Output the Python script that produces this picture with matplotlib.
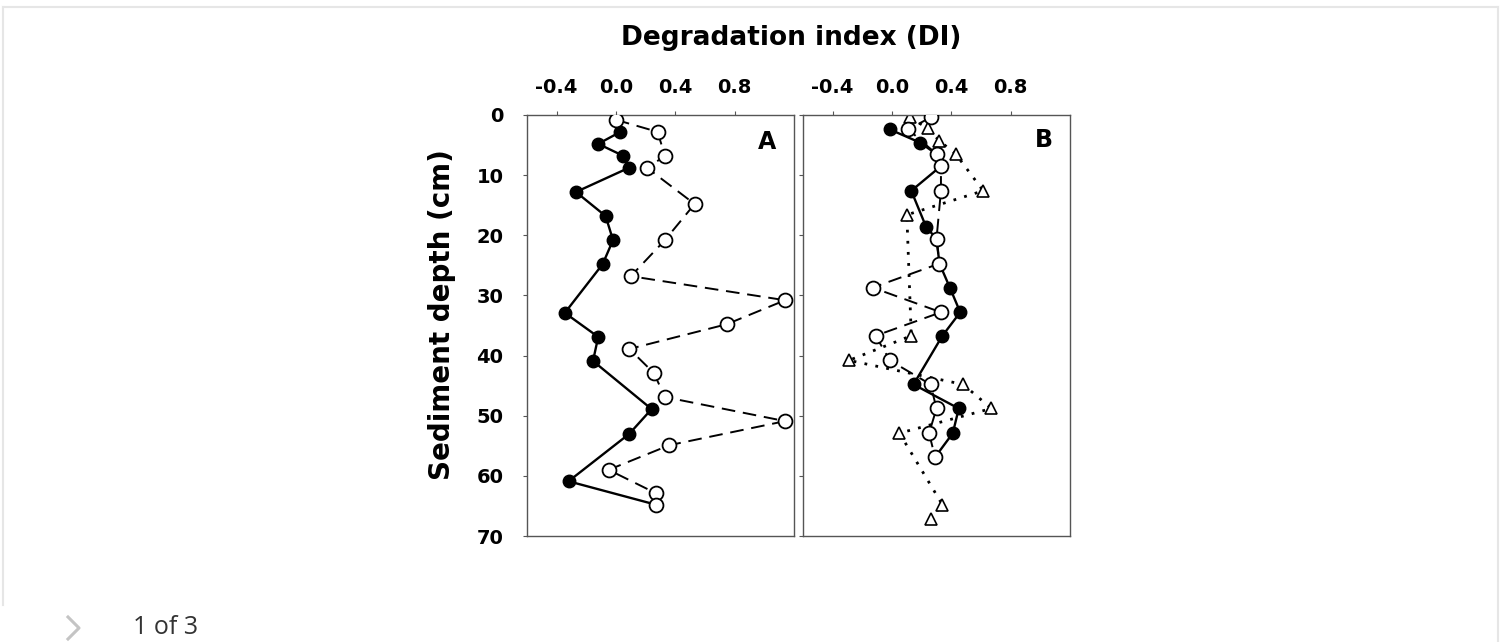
import matplotlib
matplotlib.use("Agg")
import matplotlib.pyplot as plt
from matplotlib.lines import Line2D

plt.rcParams["axes.unicode_minus"] = False
plt.rcParams["font.family"] = "DejaVu Sans"
plt.rcParams["font.weight"] = "bold"

W, H = 1505, 642

# panel A: filled circles (solid line)
a_fill_depth = [2.8, 4.8, 6.8, 8.8, 12.8, 16.8, 20.8, 24.8, 32.9, 36.9, 40.9, 48.9, 53.0, 60.9, 64.8]
a_fill_di = [0.03, -0.12, 0.05, 0.085, -0.27, -0.07, -0.02, -0.09, -0.345, -0.12, -0.155, 0.24, 0.09, -0.32, 0.27]
# panel A: open circles (dashed line)
a_open_depth = [0.8, 2.8, 6.8, 8.8, 14.8, 20.8, 26.8, 30.8, 34.8, 38.9, 42.9, 46.9, 50.9, 54.9, 59.0, 62.9, 64.8]
a_open_di = [0.0, 0.28, 0.33, 0.21, 0.53, 0.33, 0.10, 1.14, 0.745, 0.09, 0.255, 0.33, 1.14, 0.36, -0.05, 0.27, 0.27]

# panel B: filled circles (solid line)
b_fill_depth = [2.4, 4.6, 6.5, 8.5, 12.6, 18.6, 20.6, 24.7, 28.7, 32.8, 36.7, 44.8, 48.8, 52.9, 56.9]
b_fill_di = [-0.015, 0.19, 0.30, 0.33, 0.13, 0.23, 0.30, 0.32, 0.39, 0.46, 0.34, 0.145, 0.45, 0.41, 0.29]
# panel B: open circles (dashed line)
b_open_depth = [0.4, 2.4, 6.5, 8.5, 12.6, 20.6, 24.7, 28.7, 32.8, 36.7, 40.8, 44.8, 48.8, 52.9, 56.9]
b_open_di = [0.26, 0.11, 0.30, 0.33, 0.33, 0.30, 0.32, -0.13, 0.33, -0.11, -0.015, 0.26, 0.30, 0.25, 0.29]
# panel B: open triangles (dotted line)
b_tri_depth = [0.4, 2.2, 4.3, 6.5, 12.6, 16.6, 36.7, 40.8, 44.8, 48.8, 52.9, 64.8, 67.1]
b_tri_di = [0.12, 0.24, 0.32, 0.43, 0.615, 0.10, 0.13, -0.29, 0.48, 0.67, 0.05, 0.34, 0.26]

x_ticks = [-0.4, 0.0, 0.4, 0.8]
y_ticks = [0, 10, 20, 30, 40, 50, 60, 70]

fig = plt.figure(figsize=(W / 100, H / 100), dpi=100)


def px_axes(left, top, right, bottom):
    return fig.add_axes([left / W, 1 - bottom / H, (right - left) / W, (bottom - top) / H])


axA = px_axes(527, 115, 794, 536)
axB = px_axes(803, 115, 1070, 536)

dash = (0, (7, 4))
dots = (0, (1, 3))
ms = 9

for ax in (axA, axB):
    ax.set_xlim(-0.6, 1.2)
    ax.set_ylim(70, 0)
    ax.xaxis.tick_top()
    ax.set_xticks(x_ticks)
    ax.set_xticklabels([f"{t:.1f}" for t in x_ticks])
    ax.set_yticks(y_ticks)
    ax.tick_params(axis="x", direction="out", length=3, width=0.8, color="#555", pad=10,
                   labelsize=14, top=True, bottom=False)
    ax.tick_params(axis="y", direction="out", length=3, width=0.8, color="#555", pad=14,
                   labelsize=14, left=True, right=False)
    for s in ax.spines.values():
        s.set_color("#555")
        s.set_linewidth(1.0)

axB.set_yticklabels([])

# panel A
axA.plot(a_fill_di, a_fill_depth, color="black", lw=1.7, marker="o", ms=ms,
         mfc="black", mec="black", zorder=3)
axA.plot(a_open_di, a_open_depth, color="black", lw=1.4, ls=dash, marker="o", ms=ms + 1,
         mfc="white", mec="black", mew=1.3, zorder=4)

# panel B
axB.plot(b_tri_di, b_tri_depth, color="black", lw=2.0, ls=dots,
         marker="^", ms=ms, mfc="white", mec="black", mew=1.2, zorder=2)
axB.plot(b_fill_di, b_fill_depth, color="black", lw=1.7, marker="o", ms=ms,
         mfc="black", mec="black", zorder=3)
axB.plot(b_open_di, b_open_depth, color="black", lw=1.4, ls=dash, marker="o", ms=ms + 1,
         mfc="white", mec="black", mew=1.3, zorder=4)

fig.text(767 / W, 1 - 142 / H, "A", ha="center", va="center", fontsize=17, fontweight="bold")
fig.text(1044 / W, 1 - 140 / H, "B", ha="center", va="center", fontsize=17, fontweight="bold")

fig.text(791 / W, 1 - 38 / H, "Degradation index (DI)", ha="center", va="center",
         fontsize=19, fontweight="bold")
fig.text(442 / W, 1 - 315 / H, "Sediment depth (cm)", ha="center", va="center",
         rotation=90, fontsize=20, fontweight="bold")

# page frame around the figure
frame = "#e6e6e6"
fig.add_artist(Line2D([3 / W, 1498 / W], [1 - 7 / H, 1 - 7 / H], color=frame, lw=1.5))
fig.add_artist(Line2D([3 / W, 3 / W], [1 - 7 / H, 1 - 605 / H], color=frame, lw=1.5))
fig.add_artist(Line2D([1498 / W, 1498 / W], [1 - 7 / H, 0], color=frame, lw=1.5))

# pager
fig.add_artist(Line2D([68 / W, 79 / W, 68 / W], [1 - 617 / H, 1 - 628 / H, 1 - 639 / H],
                      color="#c4c4c4", lw=2.2))
fig.text(133 / W, 1 - 627 / H, "1 of 3", ha="left", va="center", fontsize=18,
         fontweight="normal", family="Open Sans", color="#333333")

fig.savefig("out.png", dpi=100)
